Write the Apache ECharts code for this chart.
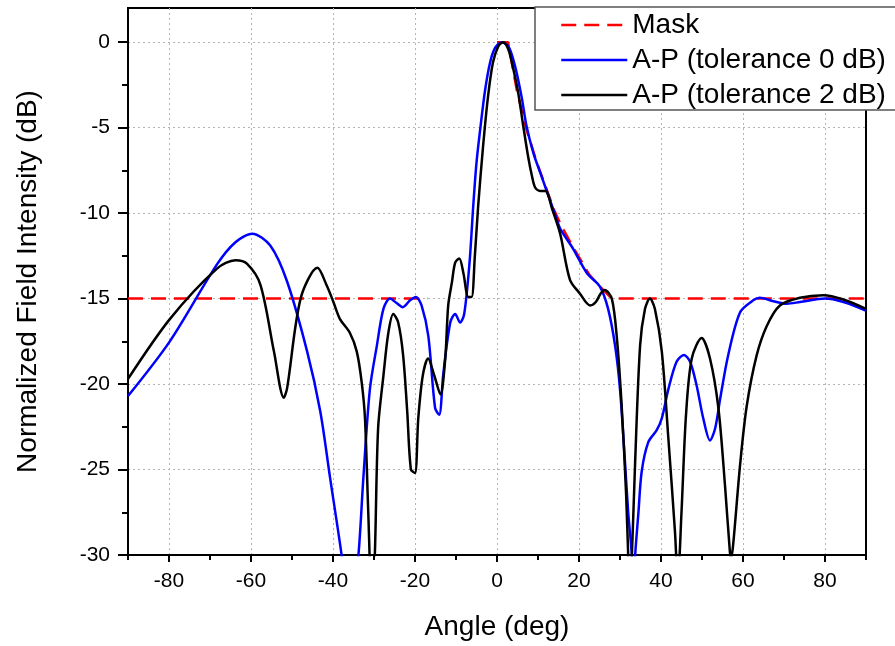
<!DOCTYPE html>
<html>
<head>
<meta charset="utf-8">
<script src="https://cdn.jsdelivr.net/npm/echarts@6/dist/echarts.min.js"></script>
<style>
html,body{margin:0;padding:0;background:#fff;}
#chart{width:895px;height:646px;}
</style>
</head>
<body>
<div id="chart"></div>
<script>
// ---- data ----
const seriesNames = ['Mask', 'A-P (tolerance 0 dB)', 'A-P (tolerance 2 dB)'];

const maskAngles = [-90, -17, null, 0, 2.7, 4.9, 7.3, 9.8, 13.9, 15.6, 18.6, 22.5, 25.1, 28, 90];
const maskValues = [-15, -15, null, 0, 0, -2.9, -5.2, -7.1, -9.8, -10.7, -12.0, -13.6, -14.3, -15, -15];

const ap0Angles = [-90, -79.8, -68.3, -63.8, -59.7, -55.3, -51.2, -46.3, -43.1, -40.7, -37.9, -35.8, -33.8, -32.6, -31.0,
  -29.3, -27.7, -26.1, -24.5, -23.0, -21.2, -19.8, -18.4, -16.75, -15.1, -14.1, -13.1, -11.4, -10.2, -9.0,
  -8.0, -6.7, -5.8, -5.0, -4.1, -2.9, -1.7, -0.5, 1.1, 2.8, 4.4, 6.0, 7.2, 8.9, 10.5,
  13.9, 15.4, 18.6, 21.9, 25.1, 27.1, 28.8, 30.0, 31.2, 32.0, 32.9, 33.3, 33.7, 34.5, 35.3,
  36.9, 38.95, 40.2, 41.8, 43.8, 45.6, 47.1, 48.7, 50.3, 51.95, 53.2, 54.4, 56.4, 59.3, 62.5,
  64.1, 67.4, 70.7, 73.9, 80.0, 84.5, 90];
const ap0Values = [-20.7, -17.5, -13.0, -11.7, -11.2, -11.9, -14.0, -18.1, -21.6, -25.5, -30, -34, -30, -25.5, -20.3,
  -17.75, -15.6, -15.0, -15.26, -15.5, -15.1, -14.9, -15.4, -17.2, -21.4, -21.8, -19.4, -16.4, -15.9, -16.4,
  -15.9, -12.9, -9.6, -7.05, -5.1, -2.8, -1.2, -0.35, 0, -0.25, -1.4, -3.2, -4.9, -6.5, -7.6,
  -9.9, -10.9, -12.1, -13.5, -14.3, -15.6, -17.75, -20.3, -24.5, -27.5, -30, -32, -30, -27.5, -25.1,
  -23.4, -22.7, -22.0, -20.3, -18.7, -18.3, -18.7, -20.1, -22.0, -23.3, -22.6, -20.9, -18.3, -15.8, -15.1,
  -14.95, -15.15, -15.3, -15.2, -15.0, -15.2, -15.7];

const ap2Angles = [-90, -79.8, -68.3, -63.8, -61.0, -57.7, -54.4, -52.0, -51.2, -47.9, -43.8, -41.5, -39.9, -38.3, -35.9,
  -34.2, -33.0, -32.2, -31.4, -30.5, -29.8, -29.0, -27.7, -26.5, -25.3, -24.1, -22.9, -21.9, -21.0, -20.0,
  -19.2, -18.1, -16.8, -15.3, -13.8, -12.65, -11.9, -11.0, -10.2, -9.2, -8.2, -7.0, -6.2, -5.4, -4.6,
  -3.4, -2.2, -1.0, 0.3, 1.5, 2.8, 4.0, 5.2, 6.4, 7.6, 8.5, 9.3, 10.5, 11.8, 13.5,
  15.4, 17.8, 20.2, 22.7, 24.1, 25.3, 26.3, 28.0, 29.2, 30.4, 31.5, 32.0, 32.4, 32.9, 33.7,
  34.9, 36.1, 37.3, 38.5, 40.2, 41.8, 43.4, 44.1, 45.0, 46.1, 47.5, 49.9, 51.95, 54.0, 55.6,
  56.8, 57.1, 57.6, 59.3, 60.9, 63.3, 65.8, 69.0, 73.9, 79.6, 84.5, 90];
const ap2Values = [-19.7, -16.2, -13.25, -12.76, -12.96, -14.2, -18.1, -20.8, -20.25, -15.0, -13.2, -14.25, -15.2, -16.2, -17.0,
  -18.1, -19.9, -22.0, -27.5, -33, -30, -22.6, -19.5, -17.0, -15.9, -16.4, -18.3, -21.6, -25.0, -25.2,
  -22.0, -19.5, -18.5, -19.5, -20.6, -18.6, -15.4, -14.05, -12.9, -12.65, -13.5, -14.9, -14.9, -12.5, -9.6,
  -6.1, -3.2, -1.2, -0.25, 0, -0.45, -1.6, -3.0, -4.9, -6.7, -7.8, -8.5, -8.7, -8.7, -9.8,
  -11.2, -13.9, -14.7, -15.4, -15.2, -14.7, -14.5, -15.0, -17.2, -21.25, -26.5, -30, -32, -30, -24.5,
  -17.75, -15.6, -15.0, -15.6, -18.1, -23.2, -28.6, -31.5, -27.5, -21.8, -18.5, -17.3, -18.5, -21.4, -25.9,
  -29.8, -30.2, -29.4, -24.7, -21.3, -18.35, -16.6, -15.4, -14.95, -14.8, -15.05, -15.6];

const xMajorTicks = [-80, -60, -40, -20, 0, 20, 40, 60, 80];
const xMinorTicks = [-90, -70, -50, -30, -10, 10, 30, 50, 70, 90];
const yMajorTicks = [-30, -25, -20, -15, -10, -5, 0];
const yMinorTicks = [-27.5, -22.5, -17.5, -12.5, -7.5, -2.5];

// ---- build ----
function pair(a, v) { return a.map((x, i) => [x === null ? 0 : x, v[i] === null ? null : v[i]]); }

const FONT = 'Liberation Sans, Arial, sans-serif';
const chart = echarts.init(document.getElementById('chart'), null, { renderer: 'canvas' });

const gridLine = { show: true, lineStyle: { color: '#b4b4b4', type: [2, 3], width: 1 } };

chart.setOption({
  animation: false,
  backgroundColor: '#fff',
  grid: { left: 128, top: 8, width: 738, height: 549, show: true, borderColor: '#000', borderWidth: 2, backgroundColor: 'transparent' },
  legend: {
    orient: 'vertical', left: 535, top: 7,
    data: seriesNames,
    itemWidth: 66, itemHeight: 14, itemGap: 7,
    padding: [4, 24, 1, 25],
    backgroundColor: '#fff', borderColor: '#555', borderWidth: 1.5, borderRadius: 0,
    itemStyle: { opacity: 0 },
    lineStyle: { width: 2.5 },
    textStyle: { fontFamily: FONT, fontSize: 28, color: '#000' }
  },
  xAxis: [{
    type: 'value', min: -90, max: 90, interval: 10,
    name: 'Angle (deg)', nameLocation: 'middle', nameGap: 58,
    nameTextStyle: { fontFamily: FONT, fontSize: 28, color: '#000' },
    axisLine: { show: true, onZero: false, lineStyle: { color: '#000', width: 2 } },
    axisTick: { show: true, customValues: xMajorTicks, length: 7, lineStyle: { color: '#000', width: 2 } },
    axisLabel: { customValues: xMajorTicks, fontFamily: FONT, fontSize: 21, color: '#000', margin: 16 },
    splitLine: gridLine
  }, {
    type: 'value', min: -90, max: 90, interval: 10, position: 'bottom', offset: 0,
    axisLine: { show: false, onZero: false },
    axisTick: { show: true, customValues: xMinorTicks, length: 5, lineStyle: { color: '#000', width: 2 } },
    axisLabel: { show: false },
    splitLine: { show: false }
  }],
  yAxis: [{
    type: 'value', min: -30, max: 2, interval: 5,
    name: 'Normalized Field Intensity (dB)', nameLocation: 'middle', nameGap: 86,
    nameTextStyle: { fontFamily: FONT, fontSize: 28, color: '#000' },
    axisLine: { show: true, onZero: false, lineStyle: { color: '#000', width: 2 } },
    axisTick: { show: true, customValues: yMajorTicks, length: 10, lineStyle: { color: '#000', width: 2 } },
    axisLabel: { customValues: yMajorTicks, fontFamily: FONT, fontSize: 21, color: '#000', margin: 18 },
    splitLine: gridLine
  }, {
    type: 'value', min: -30, max: 2, interval: 5, position: 'left', offset: 0,
    axisLine: { show: false, onZero: false },
    axisTick: { show: true, customValues: yMinorTicks, length: 6, lineStyle: { color: '#000', width: 2 } },
    axisLabel: { show: false },
    splitLine: { show: false }
  }],
  series: [{
    name: seriesNames[0], type: 'line', symbol: 'none', smooth: false, connectNulls: false,
    data: pair(maskAngles, maskValues), clip: true,
    lineStyle: { color: '#ff0000', width: 2.5, type: [15, 8] }, itemStyle: { color: '#ff0000' }
  }, {
    name: seriesNames[1], type: 'line', symbol: 'none', smooth: 0.3, clip: true,
    data: pair(ap0Angles, ap0Values),
    lineStyle: { color: '#0000ff', width: 2.5 }, itemStyle: { color: '#0000ff' }
  }, {
    name: seriesNames[2], type: 'line', symbol: 'none', smooth: 0.3, clip: true,
    data: pair(ap2Angles, ap2Values),
    lineStyle: { color: '#000000', width: 2.5 }, itemStyle: { color: '#000000' }
  }]
});
</script>
</body>
</html>
